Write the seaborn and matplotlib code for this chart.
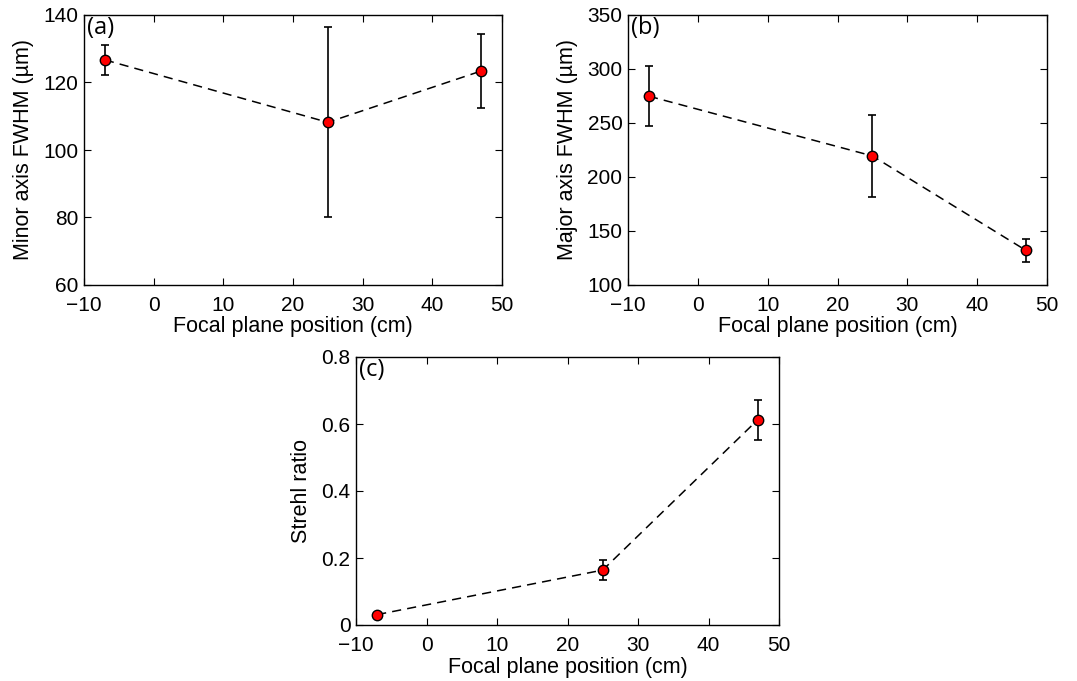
import numpy as np
import pandas as pd
import matplotlib
matplotlib.use('Agg')
import matplotlib.pyplot as plt
import seaborn as sns

# focal plane positions (cm)
position = [-7, 25, 47]

# (a) minor axis FWHM (um)
minor_fwhm = [126.7, 108.2, 123.4]
minor_err = [4.4, 28.2, 10.9]

# (b) major axis FWHM (um)
major_fwhm = [274.8, 219.5, 132.0]
major_err = [27.7, 37.7, 11.0]

# (c) Strehl ratio
strehl = [0.031, 0.164, 0.613]
strehl_err = [0.004, 0.029, 0.060]

sns.set_style("ticks")
plt.rcParams['font.family'] = ['Liberation Sans', 'DejaVu Sans']
plt.rcParams['xtick.direction'] = 'in'
plt.rcParams['ytick.direction'] = 'in'
plt.rcParams['axes.linewidth'] = 1.0
plt.rcParams['text.color'] = 'black'
plt.rcParams['axes.labelcolor'] = 'black'
plt.rcParams['xtick.color'] = 'black'
plt.rcParams['ytick.color'] = 'black'

fig = plt.figure(figsize=(10.77, 6.81), dpi=100)
W, H = 1077, 681


def make_axes(left, top, right, bottom):
    return fig.add_axes([left / W, 1 - bottom / H, (right - left) / W, (bottom - top) / H])


ax_a = make_axes(84, 15, 502, 285)
ax_b = make_axes(628, 15, 1047, 285)
ax_c = make_axes(356, 357, 779, 625)


def panel(ax, y, err, ylim, yticks, ylabel, tag, fmt):
    df = pd.DataFrame({'pos': position, 'val': y})
    ax.errorbar(position, y, yerr=err, fmt='none', ecolor='black',
                elinewidth=1.2, capsize=3, capthick=1.2, zorder=2)
    sns.lineplot(data=df, x='pos', y='val', ax=ax, color='black',
                 linestyle=(0, (6, 4)), linewidth=1.1, marker='o',
                 markersize=7.5, markerfacecolor='red', markeredgecolor='black',
                 markeredgewidth=1.0, zorder=3)
    ax.set_xlim(-10, 50)
    ax.set_xticks(range(-10, 51, 10))
    ax.set_xticklabels(['\u221210' if t < 0 else str(t) for t in range(-10, 51, 10)])
    ax.set_ylim(*ylim)
    ax.set_yticks(yticks)
    ax.set_yticklabels([fmt(t) for t in yticks])
    ax.tick_params(top=True, right=True, labelsize=15, length=5, width=0.8)
    ax.tick_params(axis='x', pad=8)
    ax.tick_params(axis='y', pad=4)
    ax.set_xlabel('Focal plane position (cm)', fontsize=15.5, labelpad=1)
    ax.set_ylabel(ylabel, fontsize=15.5, labelpad=7)
    ax.text(0.008, 0.995, tag, transform=ax.transAxes, ha='left', va='top',
            fontsize=17, family=['Open Sans', 'DejaVu Sans'])
    for s in ax.spines.values():
        s.set_visible(True)
        s.set_color('black')


panel(ax_a, minor_fwhm, minor_err, (60, 140), [60, 80, 100, 120, 140],
      'Minor axis FWHM (\u00b5m)', '(a)', lambda t: str(t))
panel(ax_b, major_fwhm, major_err, (100, 350), [100, 150, 200, 250, 300, 350],
      'Major axis FWHM (\u00b5m)', '(b)', lambda t: str(t))
panel(ax_c, strehl, strehl_err, (0, 0.8), [0, 0.2, 0.4, 0.6, 0.8],
      'Strehl ratio', '(c)', lambda t: '0' if t == 0 else f'{t:.1f}')

fig.savefig('out.png', dpi=100, facecolor='white')
